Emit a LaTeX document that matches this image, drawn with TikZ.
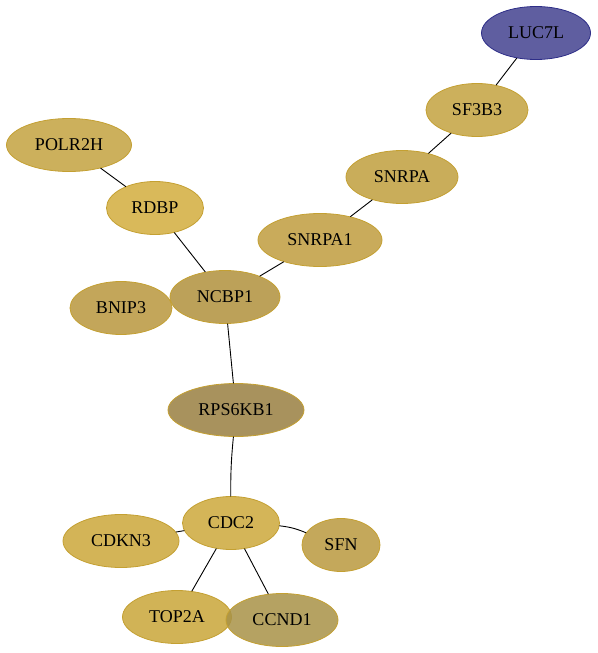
\documentclass[tikz,border=0pt]{standalone}
\usepackage{fontspec}
\setmainfont{Liberation Serif}
\usetikzlibrary{shapes.geometric}

\definecolor{luc}{HTML}{5F5EA0}
\definecolor{lucline}{HTML}{2E2E88}
\definecolor{goldline}{HTML}{C4A032}

\begin{document}
\begin{tikzpicture}[x=1pt,y=-1pt,line cap=round,line join=round,
  gene/.style={ellipse,draw=goldline,line width=0.8pt,inner sep=0pt,
    minimum height=53pt,font=\fontsize{18}{20}\selectfont},
  link/.style={line width=0.9pt}]
  \useasboundingbox (0,0) rectangle (597,653);
  % upper chain
  \node[gene,fill=luc,draw=lucline,minimum width=109pt] (luc7l) at (536,33) {LUC7L};
  \node[gene,fill={rgb,255:red,204;green,176;blue,92},minimum width=102pt] (sf3b3) at (477,110) {SF3B3};
  \node[gene,fill={rgb,255:red,201;green,173;blue,90},minimum width=112pt] (snrpa) at (402,177) {SNRPA};
  \node[gene,fill={rgb,255:red,201;green,171;blue,91},minimum width=124pt] (snrpa1) at (320,240) {SNRPA1};
  \node[gene,fill={rgb,255:red,204;green,176;blue,92},minimum width=125pt] (polr2h) at (69,145) {POLR2H};
  \node[gene,fill={rgb,255:red,217;green,185;blue,90},minimum width=97pt] (rdbp) at (155,208) {RDBP};
  \node[gene,fill={rgb,255:red,195;green,166;blue,90},minimum width=102pt] (bnip3) at (121,308) {BNIP3};
  \node[gene,fill={rgb,255:red,188;green,161;blue,89},minimum width=110pt] (ncbp1) at (225,297) {NCBP1};
  \node[gene,fill={rgb,255:red,168;green,146;blue,93},minimum width=136pt] (rps6kb1) at (236,410) {RPS6KB1};
  % lower group
  \node[gene,fill={rgb,255:red,212;green,181;blue,88},minimum width=97pt] (cdc2) at (231,523) {CDC2};
  \node[gene,fill={rgb,255:red,211;green,180;blue,87},minimum width=116pt] (cdkn3) at (121,541) {CDKN3};
  \node[gene,fill={rgb,255:red,196;green,168;blue,91},minimum width=78pt] (sfn) at (341,545) {SFN};
  \node[gene,fill={rgb,255:red,209;green,179;blue,86},minimum width=109pt] (top2a) at (177,617) {TOP2A};
  \node[gene,fill={rgb,255:red,168;green,146;blue,70},fill opacity=0.85,text opacity=1,minimum width=112pt] (ccnd1) at (282,620) {CCND1};
  % edges
  \draw[link] (luc7l) -- (sf3b3);
  \draw[link] (sf3b3) -- (snrpa);
  \draw[link] (snrpa) -- (snrpa1);
  \draw[link] (snrpa1) -- (ncbp1);
  \draw[link] (polr2h) -- (rdbp);
  \draw[link] (rdbp) -- (ncbp1);
  \draw[link] (ncbp1) -- (rps6kb1);
  \draw[link] (rps6kb1) to[bend right=3] (cdc2);
  \draw[link] (cdc2) -- (cdkn3);
  \draw[link] (cdc2) to[bend left=8] (sfn);
  \draw[link] (cdc2) -- (top2a);
  \draw[link] (cdc2) -- (ccnd1);
\end{tikzpicture}
\end{document}
